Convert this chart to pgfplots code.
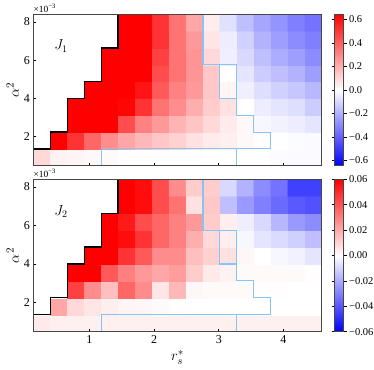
\documentclass[border=0pt]{standalone}
\usepackage{fontspec}
\setmainfont{Liberation Serif}
\usepackage{pgfplots}
\pgfplotsset{compat=1.18}

\definecolor{maskblue}{RGB}{135,196,245}
\definecolor{frame}{RGB}{70,70,70}

\pgfplotsset{
  heat/.style={
    scale only axis, width=288.4pt,
    xmin=0.134, xmax=4.591, ymin=0.48, ymax=8.40,
    axis on top,
    axis line style={frame, line width=0.8pt},
    tick align=inside, tick pos=left, major tick length=3pt,
    tick style={black, line width=0.6pt},
    xtick={1,2,3,4}, ytick={2,4,6,8},
    ticklabel style={font=\fontsize{12}{12}\selectfont},
    /pgf/number format/assume math mode=true,
    ylabel={$\alpha^2$},
    ylabel style={font=\fontsize{15}{15}\selectfont, yshift=-2pt},
    colormap={bwr}{rgb=(0,0,1) rgb=(1,1,1) rgb=(1,0,0)},
    colorbar right,
  },
  cbar/.style={
    width=9pt, at={(parent axis.north east)}, anchor=north west, xshift=4.3pt,
    scaled y ticks=false,
    tick align=outside, major tick length=3pt,
    ytick style={black, line width=0.6pt},
    axis line style={frame, line width=0.8pt},
    yticklabel style={font=\fontsize{10.5}{11}\selectfont, anchor=west, xshift=-1pt},
  },
  staircase/.style={black, line width=1.3pt, no markers},
  maskline/.style={maskblue, line width=1.1pt, no markers},
}
\tikzset{offset/.style={anchor=south west, inner sep=0pt, font=\fontsize{9.5}{10}\selectfont}}

\begin{document}
\begin{tikzpicture}

% ---------------- J1 ----------------
\begin{axis}[heat, name=top, height=151.4pt,
  at={(33.3pt,-165.7pt)}, anchor=south west,
  xticklabels={},
  point meta min=-0.645, point meta max=0.645,
  colorbar style={cbar,
    ytick={-0.6,-0.4,-0.2,0,0.2,0.4,0.6},
    yticklabels={−0.6,−0.4,−0.2,0.0,0.2,0.4,0.6}},
]
\addplot[matrix plot*, mesh/cols=17, point meta=explicit] coordinates {
(0.265,0.92)[0.097] (0.527,0.92)[0.032] (0.790,0.92)[0.026] (1.052,0.92)[0.019] (1.314,0.92)[0.013] (1.576,0.92)[0.006] (1.838,0.92)[0.006] (2.101,0.92)[0.006] (2.363,0.92)[0.003] (2.625,0.92)[0.002] (2.887,0.92)[0.001] (3.149,0.92)[0.001] (3.412,0.92)[0] (3.674,0.92)[0] (3.936,0.92)[-0.006] (4.198,0.92)[-0.010] (4.460,0.92)[-0.013]
(0.265,1.80)[0] (0.527,1.80)[0.645] (0.790,1.80)[0.516] (1.052,1.80)[0.387] (1.314,1.80)[0.290] (1.576,1.80)[0.226] (1.838,1.80)[0.180] (2.101,1.80)[0.142] (2.363,1.80)[0.116] (2.625,1.80)[0.077] (2.887,1.80)[0.052] (3.149,1.80)[0.039] (3.412,1.80)[0.019] (3.674,1.80)[0.006] (3.936,1.80)[0] (4.198,1.80)[-0.006] (4.460,1.80)[-0.013]
(0.265,2.68)[0] (0.527,2.68)[0] (0.790,2.68)[0.645] (1.052,2.68)[0.645] (1.314,2.68)[0.645] (1.576,2.68)[0.450] (1.838,2.68)[0.320] (2.101,2.68)[0.260] (2.363,2.68)[0.190] (2.625,2.68)[0.148] (2.887,2.68)[0.097] (3.149,2.68)[0.052] (3.412,2.68)[0.019] (3.674,2.68)[-0.019] (3.936,2.68)[-0.032] (4.198,2.68)[-0.045] (4.460,2.68)[-0.065]
(0.265,3.56)[0] (0.527,3.56)[0] (0.790,3.56)[0.645] (1.052,3.56)[0.645] (1.314,3.56)[0.645] (1.576,3.56)[0.630] (1.838,3.56)[0.516] (2.101,3.56)[0.355] (2.363,3.56)[0.290] (2.625,3.56)[0.206] (2.887,3.56)[0.129] (3.149,3.56)[0.077] (3.412,3.56)[0] (3.674,3.56)[-0.045] (3.936,3.56)[-0.065] (4.198,3.56)[-0.084] (4.460,3.56)[-0.129]
(0.265,4.44)[0] (0.527,4.44)[0] (0.790,4.44)[0] (1.052,4.44)[0.645] (1.314,4.44)[0.645] (1.576,4.44)[0.645] (1.838,4.44)[0.593] (2.101,4.44)[0.420] (2.363,4.44)[0.320] (2.625,4.44)[0.258] (2.887,4.44)[0.142] (3.149,4.44)[0.026] (3.412,4.44)[-0.039] (3.674,4.44)[-0.084] (3.936,4.44)[-0.116] (4.198,4.44)[-0.142] (4.460,4.44)[-0.180]
(0.265,5.32)[0] (0.527,5.32)[0] (0.790,5.32)[0] (1.052,5.32)[0] (1.314,5.32)[0.645] (1.576,5.32)[0.645] (1.838,5.32)[0.645] (2.101,5.32)[0.450] (2.363,5.32)[0.355] (2.625,5.32)[0.271] (2.887,5.32)[0.142] (3.149,5.32)[0] (3.412,5.32)[-0.065] (3.674,5.32)[-0.129] (3.936,5.32)[-0.161] (4.198,5.32)[-0.194] (4.460,5.32)[-0.245]
(0.265,6.20)[0] (0.527,6.20)[0] (0.790,6.20)[0] (1.052,6.20)[0] (1.314,6.20)[0.645] (1.576,6.20)[0.645] (1.838,6.20)[0.645] (2.101,6.20)[0.484] (2.363,6.20)[0.355] (2.625,6.20)[0.271] (2.887,6.20)[0.097] (3.149,6.20)[-0.039] (3.412,6.20)[-0.097] (3.674,6.20)[-0.161] (3.936,6.20)[-0.206] (4.198,6.20)[-0.245] (4.460,6.20)[-0.290]
(0.265,7.08)[0] (0.527,7.08)[0] (0.790,7.08)[0] (1.052,7.08)[0] (1.314,7.08)[0] (1.576,7.08)[0.645] (1.838,7.08)[0.645] (2.101,7.08)[0.516] (2.363,7.08)[0.355] (2.625,7.08)[0.258] (2.887,7.08)[0.065] (3.149,7.08)[-0.045] (3.412,7.08)[-0.116] (3.674,7.08)[-0.194] (3.936,7.08)[-0.245] (4.198,7.08)[-0.290] (4.460,7.08)[-0.320]
(0.265,7.96)[0] (0.527,7.96)[0] (0.790,7.96)[0] (1.052,7.96)[0] (1.314,7.96)[0] (1.576,7.96)[0.645] (1.838,7.96)[0.645] (2.101,7.96)[0.516] (2.363,7.96)[0.355] (2.625,7.96)[0.226] (2.887,7.96)[0.045] (3.149,7.96)[-0.077] (3.412,7.96)[-0.161] (3.674,7.96)[-0.226] (3.936,7.96)[-0.271] (4.198,7.96)[-0.320] (4.460,7.96)[-0.355]
};
\addplot[staircase] coordinates {(0.134,1.36) (0.396,1.36) (0.396,2.24) (0.658,2.24) (0.658,4.00) (0.921,4.00) (0.921,4.88) (1.183,4.88) (1.183,6.64) (1.445,6.64) (1.445,8.40)};
\addplot[maskline] coordinates {(2.756,8.40) (2.756,5.76) (3.280,5.76) (3.280,3.12) (3.543,3.12) (3.543,2.24) (3.805,2.24) (3.805,1.36) (1.183,1.36) (1.183,0.48)};
\addplot[maskline] coordinates {(3.018,5.76) (3.018,4.00) (3.280,4.00)};
\addplot[maskline] coordinates {(3.280,1.36) (3.280,0.48)};
\node[font=\fontsize{14}{14}\selectfont] at (rel axis cs:0.096,0.79) {$J_1$};
\end{axis}
\node[offset] at ([yshift=1.5pt]top.north west) {×10\textsuperscript{−3}};

% ---------------- J2 ----------------
\begin{axis}[heat, name=bot, height=152.4pt,
  at={(33.3pt,-331.7pt)}, anchor=south west,
  xlabel={$r_s^*$},
  xlabel style={font=\fontsize{15}{15}\selectfont, yshift=0pt},
  point meta min=-0.06, point meta max=0.06,
  colorbar style={cbar,
    ytick={-0.06,-0.04,-0.02,0,0.02,0.04,0.06},
    yticklabels={−0.06,−0.04,−0.02,0.00,0.02,0.04,0.06}},
]
\addplot[matrix plot*, mesh/cols=17, point meta=explicit] coordinates {
(0.265,0.92)[0.005] (0.527,0.92)[0.0036] (0.790,0.92)[0.0036] (1.052,0.92)[0.0036] (1.314,0.92)[0.0036] (1.576,0.92)[0.0036] (1.838,0.92)[0.0036] (2.101,0.92)[0.0036] (2.363,0.92)[0.0036] (2.625,0.92)[0.0036] (2.887,0.92)[0.0036] (3.149,0.92)[0.0036] (3.412,0.92)[0.0036] (3.674,0.92)[0.0036] (3.936,0.92)[0.0036] (4.198,0.92)[0.0036] (4.460,0.92)[0.0036]
(0.265,1.80)[0] (0.527,1.80)[0.021] (0.790,1.80)[0.009] (1.052,1.80)[0.006] (1.314,1.80)[0.004] (1.576,1.80)[0.0024] (1.838,1.80)[0.0018] (2.101,1.80)[0.0012] (2.363,1.80)[0.0006] (2.625,1.80)[0] (2.887,1.80)[0] (3.149,1.80)[0] (3.412,1.80)[0] (3.674,1.80)[0] (3.936,1.80)[0] (4.198,1.80)[0] (4.460,1.80)[0]
(0.265,2.68)[0] (0.527,2.68)[0] (0.790,2.68)[0.045] (1.052,2.68)[0.027] (1.314,2.68)[0.015] (1.576,2.68)[0.036] (1.838,2.68)[0.027] (2.101,2.68)[0.006] (2.363,2.68)[0.017] (2.625,2.68)[0.0018] (2.887,2.68)[0.0012] (3.149,2.68)[0.0012] (3.412,2.68)[0.0012] (3.674,2.68)[0.0006] (3.936,2.68)[0.0006] (4.198,2.68)[0] (4.460,2.68)[0]
(0.265,3.56)[0] (0.527,3.56)[0] (0.790,3.56)[0.06] (1.052,3.56)[0.06] (1.314,3.56)[0.039] (1.576,3.56)[0.030] (1.838,3.56)[0.024] (2.101,3.56)[0.021] (2.363,3.56)[0.023] (2.625,3.56)[0.012] (2.887,3.56)[0.005] (3.149,3.56)[0.003] (3.412,3.56)[0.0012] (3.674,3.56)[0.0012] (3.936,3.56)[0.0012] (4.198,3.56)[0.0012] (4.460,3.56)[0.0006]
(0.265,4.44)[0] (0.527,4.44)[0] (0.790,4.44)[0] (1.052,4.44)[0.06] (1.314,4.44)[0.06] (1.576,4.44)[0.048] (1.838,4.44)[0.039] (2.101,4.44)[0.027] (2.363,4.44)[0.027] (2.625,4.44)[0.015] (2.887,4.44)[0.011] (3.149,4.44)[0.007] (3.412,4.44)[0.0018] (3.674,4.44)[0] (3.936,4.44)[-0.0018] (4.198,4.44)[-0.003] (4.460,4.44)[-0.006]
(0.265,5.32)[0] (0.527,5.32)[0] (0.790,5.32)[0] (1.052,5.32)[0] (1.314,5.32)[0.06] (1.576,5.32)[0.057] (1.838,5.32)[0.048] (2.101,5.32)[0.036] (2.363,5.32)[0.030] (2.625,5.32)[0.019] (2.887,5.32)[0.009] (3.149,5.32)[0.004] (3.412,5.32)[-0.0018] (3.674,5.32)[-0.006] (3.936,5.32)[-0.0084] (4.198,5.32)[-0.011] (4.460,5.32)[-0.015]
(0.265,6.20)[0] (0.527,6.20)[0] (0.790,6.20)[0] (1.052,6.20)[0] (1.314,6.20)[0.06] (1.576,6.20)[0.054] (1.838,6.20)[0.042] (2.101,6.20)[0.036] (2.363,6.20)[0.030] (2.625,6.20)[0.024] (2.887,6.20)[0.012] (3.149,6.20)[0.004] (3.412,6.20)[-0.004] (3.674,6.20)[-0.009] (3.936,6.20)[-0.017] (4.198,6.20)[-0.024] (4.460,6.20)[-0.027]
(0.265,7.08)[0] (0.527,7.08)[0] (0.790,7.08)[0] (1.052,7.08)[0] (1.314,7.08)[0] (1.576,7.08)[0.06] (1.838,7.08)[0.057] (2.101,7.08)[0.042] (2.363,7.08)[0.033] (2.625,7.08)[0.007] (2.887,7.08)[0.013] (3.149,7.08)[-0.015] (3.412,7.08)[-0.024] (3.674,7.08)[-0.030] (3.936,7.08)[-0.035] (4.198,7.08)[-0.039] (4.460,7.08)[-0.041]
(0.265,7.96)[0] (0.527,7.96)[0] (0.790,7.96)[0] (1.052,7.96)[0] (1.314,7.96)[0] (1.576,7.96)[0.06] (1.838,7.96)[0.057] (2.101,7.96)[0.042] (2.363,7.96)[0.027] (2.625,7.96)[0.012] (2.887,7.96)[0.012] (3.149,7.96)[-0.009] (3.412,7.96)[-0.018] (3.674,7.96)[-0.027] (3.936,7.96)[-0.033] (4.198,7.96)[-0.045] (4.460,7.96)[-0.045]
};
\addplot[staircase] coordinates {(0.134,1.36) (0.396,1.36) (0.396,2.24) (0.658,2.24) (0.658,4.00) (0.921,4.00) (0.921,4.88) (1.183,4.88) (1.183,6.64) (1.445,6.64) (1.445,8.40)};
\addplot[maskline] coordinates {(2.756,8.40) (2.756,5.76) (3.280,5.76) (3.280,3.12) (3.543,3.12) (3.543,2.24) (3.805,2.24) (3.805,1.36) (1.183,1.36) (1.183,0.48)};
\addplot[maskline] coordinates {(3.018,5.76) (3.018,4.00) (3.280,4.00)};
\addplot[maskline] coordinates {(3.280,1.36) (3.280,0.48)};
\node[font=\fontsize{14}{14}\selectfont] at (rel axis cs:0.096,0.79) {$J_2$};
\end{axis}
\node[offset] at ([yshift=1.5pt]bot.north west) {×10\textsuperscript{−3}};

\pgfresetboundingbox
\path[use as bounding box] (0,0) rectangle (374pt,-369pt);
\end{tikzpicture}
\end{document}
